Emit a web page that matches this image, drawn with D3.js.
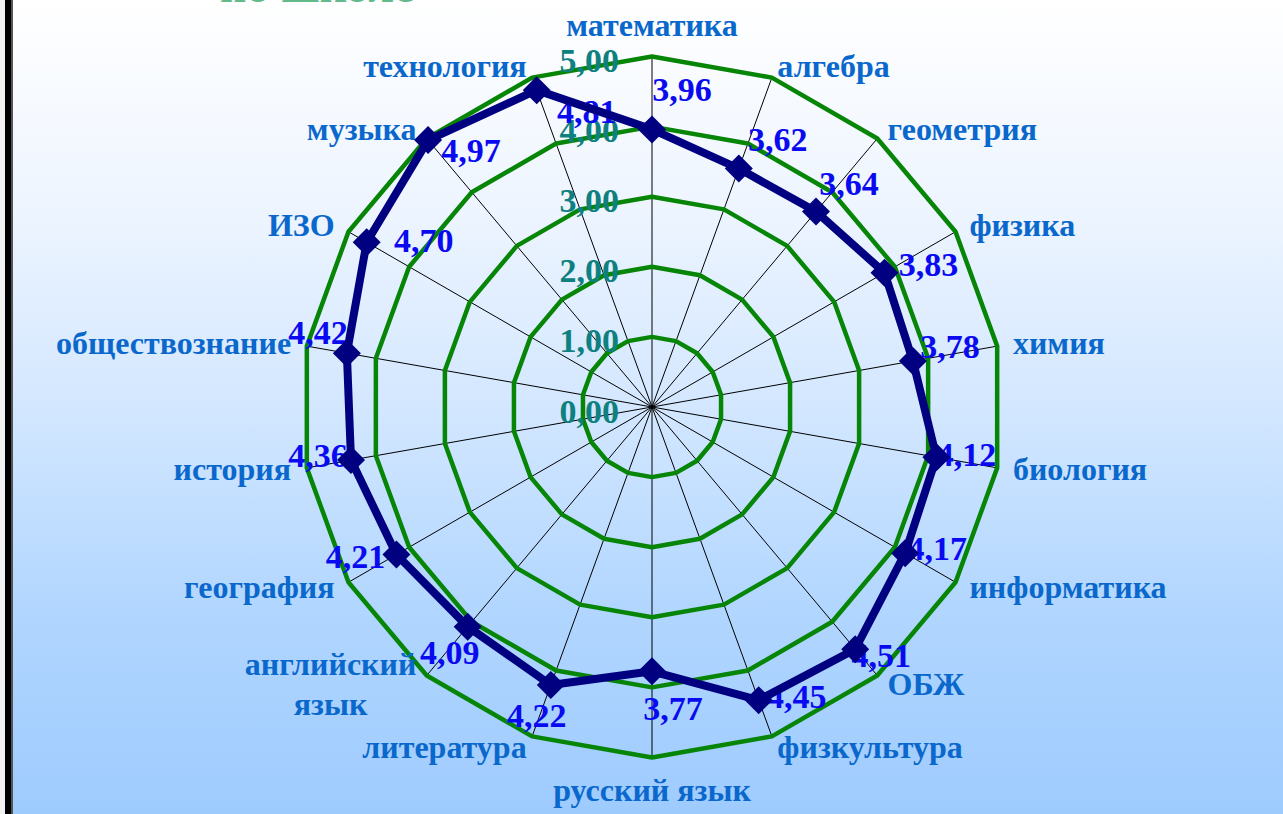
<!DOCTYPE html>
<html>
<head>
<meta charset="utf-8">
<script src="https://cdn.jsdelivr.net/npm/d3@7"></script>
<style>
  html, body { margin: 0; padding: 0; overflow: hidden; background: #fff; }
  svg text { font-family: "Liberation Serif", "Times New Roman", serif; font-weight: bold; }
</style>
</head>
<body>
<svg id="chart" width="1283" height="814"></svg>
<script>
// data
var categories = ["математика", "алгебра", "геометрия", "физика", "химия", "биология",
  "информатика", "ОБЖ", "физкультура", "русский язык", "литература", "английский\nязык",
  "география", "история", "обществознание", "ИЗО", "музыка", "технология"];
var values = [3.96, 3.62, 3.64, 3.83, 3.78, 4.12, 4.17, 4.51, 4.45, 3.77, 4.22, 4.09,
  4.21, 4.36, 4.42, 4.70, 4.97, 4.81];
var tickValues = [0, 1, 2, 3, 4, 5];
var titleText = "по школе";

// hand placement of the value labels (label centre relative to its marker)
var labelNudge = [[30, -40], [39, -29], [33, -28], [44, -8], [37, -15], [30, -3],
  [32, -5], [26, 6], [38, -4], [21, 37], [-14, 30], [-18, 26],
  [-41, 2], [-33, -5], [-29, -21], [57, -2], [43, 10], [50, 21]];

var
  width = 1283,
  height = 814,
  cx = 652,
  cy = 407,
  R = 350.5,
  fmt = function(v){ return d3.format('.2f')(v).replace('.', ','); }
  ;

var svg = d3.select('#chart');

// background gradient
var grad = svg.append('defs').append('linearGradient')
  .attr('id', 'bg').attr('x1', 0).attr('y1', 0).attr('x2', 0).attr('y2', 1);
[[0, '#ffffff'], [0.25, '#eef5ff'], [0.5, '#d3e7ff'], [0.75, '#b1d6ff'], [1, '#9ecbfe']]
  .forEach(function(s){ grad.append('stop').attr('offset', s[0]).attr('stop-color', s[1]); });

svg.append('rect').attr('width', width).attr('height', height).attr('fill', 'url(#bg)');
svg.append('rect').attr('x', 0).attr('width', 5).attr('height', height).attr('fill', '#f2f2f2');
svg.append('rect').attr('x', 5).attr('width', 6).attr('height', height).attr('fill', '#000');
svg.append('rect').attr('x', 11).attr('width', 2).attr('height', height).attr('fill', '#555');

// title, mostly off the top edge
svg.append('text')
  .attr('x', 220).attr('y', 2)
  .attr('font-size', 46)
  .attr('fill', '#62b98a')
  .text(titleText);

var rScale = d3.scaleLinear().domain([0, 5]).range([0, R]);
var angle = function(i){ return i * 2 * Math.PI / categories.length; };

var g = svg.append('g').attr('transform', 'translate(' + cx + ',' + cy + ')');

var radial = d3.lineRadial()
  .angle(function(d, i){ return angle(i); })
  .curve(d3.curveLinearClosed);

// spokes
g.selectAll('.spoke')
  .data(categories)
  .enter().append('line')
  .attr('class', 'spoke')
  .attr('x1', 0).attr('y1', 0)
  .attr('x2', function(d, i){ return rScale(5) * Math.sin(angle(i)); })
  .attr('y2', function(d, i){ return -rScale(5) * Math.cos(angle(i)); })
  .attr('stroke', '#000')
  .attr('stroke-width', 1);

// grid rings
g.selectAll('.ring')
  .data(tickValues.filter(function(t){ return t > 0; }))
  .enter().append('path')
  .attr('class', 'ring')
  .attr('d', function(t){
    return radial.radius(function(){ return rScale(t); })(categories);
  })
  .attr('fill', 'none')
  .attr('stroke', '#078507')
  .attr('stroke-width', 4.5)
  .attr('stroke-linejoin', 'round');

// radial axis labels
g.selectAll('.tick')
  .data(tickValues)
  .enter().append('text')
  .attr('class', 'tick')
  .attr('x', -33)
  .attr('y', function(t){ return -rScale(t) + 4; })
  .attr('dy', '0.34em')
  .attr('text-anchor', 'end')
  .attr('font-size', 34)
  .attr('fill', '#0e8080')
  .text(fmt);

// category labels
var cat = g.selectAll('.cat')
  .data(categories)
  .enter().append('text')
  .attr('class', 'cat')
  .attr('font-size', 32)
  .attr('fill', '#0a68cc');

cat.each(function(d, i){
  var
    a = angle(i),
    s = Math.sin(a),
    c = Math.cos(a),
    px = rScale(5) * s,
    py = -rScale(5) * c,
    lines = d.split('\n'),
    el = d3.select(this),
    anchor = Math.abs(s) < 0.1 ? 'middle' : (s > 0 ? 'start' : 'end'),
    x = px + 16 * s,
    y = Math.abs(s) < 0.1 ? py + (c > 0 ? -31 : 33) : py - 12 * c,
    lh = 40
    ;
  if (lines.length === 1) {
    el.attr('x', x).attr('y', y).attr('dy', '0.32em').attr('text-anchor', anchor).text(d);
    return;
  }
  el.attr('text-anchor', 'middle');
  var ts = el.selectAll('tspan').data(lines).enter().append('tspan')
    .attr('x', 0)
    .attr('y', function(l, k){ return y + (k - (lines.length - 1) / 2) * lh; })
    .attr('dy', '0.32em')
    .text(function(l){ return l; });
  var w = this.getBBox().width;
  var mid = anchor === 'end' ? x - w / 2 : (anchor === 'start' ? x + w / 2 : x);
  ts.attr('x', mid);
});

// value labels
g.selectAll('.val')
  .data(values)
  .enter().append('text')
  .attr('class', 'val')
  .attr('x', function(v, i){ return rScale(v) * Math.sin(angle(i)) + labelNudge[i][0]; })
  .attr('y', function(v, i){ return -rScale(v) * Math.cos(angle(i)) + labelNudge[i][1]; })
  .attr('dy', '0.34em')
  .attr('text-anchor', 'middle')
  .attr('font-size', 34)
  .attr('fill', '#0a0af0')
  .text(fmt);

// series line
g.append('path')
  .datum(values)
  .attr('d', radial.radius(function(v){ return rScale(v); }))
  .attr('fill', 'none')
  .attr('stroke', '#000080')
  .attr('stroke-width', 8)
  .attr('stroke-linejoin', 'round');

// diamond markers
g.selectAll('.mark')
  .data(values)
  .enter().append('path')
  .attr('class', 'mark')
  .attr('transform', function(v, i){
    return 'translate(' + (rScale(v) * Math.sin(angle(i))) + ',' + (-rScale(v) * Math.cos(angle(i))) + ')';
  })
  .attr('d', 'M0,-14L14,0L0,14L-14,0Z')
  .attr('fill', '#000080');
</script>
</body>
</html>
